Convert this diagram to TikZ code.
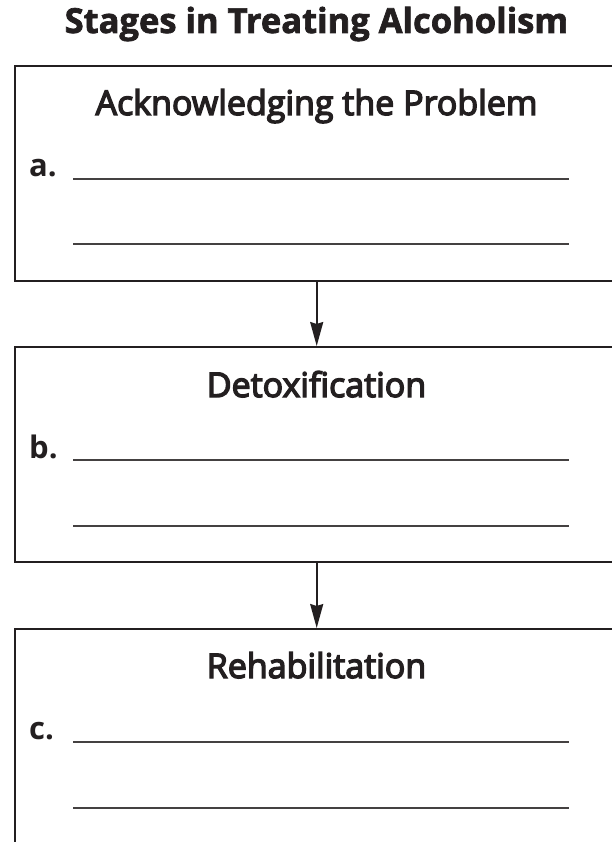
\documentclass[tikz,border=0pt]{standalone}
\usepackage{fontspec}
\setmainfont{Open Sans}
\newfontfamily\headfont{Open Sans}[FakeBold=4]
\newfontfamily\titlefont{Open Sans Bold}[FakeBold=2]
\usetikzlibrary{arrows.meta}
\definecolor{ink}{HTML}{231F20}
\tikzset{
  stagebox/.style={draw=ink, line width=2pt, rectangle, anchor=north west,
    minimum width=611pt, minimum height=215pt, inner sep=0pt},
  titletext/.style={anchor=base, text=ink, font=\fontsize{34.5}{40}\selectfont\titlefont},
  headtext/.style={anchor=base, text=ink, font=\fontsize{34}{40}\selectfont\headfont},
  labeltext/.style={anchor=base west, text=ink, inner sep=0pt, font=\fontsize{31}{36}\selectfont\bfseries},
  blank/.style={draw=ink!85, line width=1.2pt},
  flow/.style={draw=ink, line width=1.8pt, -{Stealth[length=24pt,width=13pt,inset=2pt]}}
}
\begin{document}
\begin{tikzpicture}[x=1pt,y=-1pt]
\useasboundingbox (0,0) rectangle (612,842);
\clip (0,0) rectangle (612,842);
\fill[white] (0,0) rectangle (612,842);
\node[titletext] (title) at (316.5,33) {Stages in Treating Alcoholism};
% boxes
\node[stagebox] (box1) at (14,65) {};
\node[stagebox] (box2) at (14,346) {};
\node[stagebox] (box3) at (14,628) {};
% headings
\node[headtext] (h1) at (316.5,115) {Acknowledging the Problem};
\node[headtext] (h2) at (316.5,397) {Detoxification};
\node[headtext] (h3) at (316.5,678) {Rehabilitation};
% labels
\node[labeltext] (la) at (29,177) {a.};
\node[labeltext] (lb) at (29,458) {b.};
\node[labeltext] (lc) at (29,739) {c.};
% blank lines
\coordinate (a1s) at (73,179); \coordinate (a1e) at (569,179);
\coordinate (a2s) at (73,244); \coordinate (a2e) at (569,244);
\coordinate (b1s) at (73,460); \coordinate (b1e) at (569,460);
\coordinate (b2s) at (73,526); \coordinate (b2e) at (569,526);
\coordinate (c1s) at (73,742); \coordinate (c1e) at (569,742);
\coordinate (c2s) at (73,808); \coordinate (c2e) at (569,808);
\draw[blank] (a1s) -- (a1e);
\draw[blank] (a2s) -- (a2e);
\draw[blank] (b1s) -- (b1e);
\draw[blank] (b2s) -- (b2e);
\draw[blank] (c1s) -- (c1e);
\draw[blank] (c2s) -- (c2e);
% arrows
\coordinate (ax) at (316.7,0);
\draw[flow] (box1.south -| ax) -- (box2.north -| ax);
\draw[flow] (box2.south -| ax) -- (box3.north -| ax);
\end{tikzpicture}
\end{document}
